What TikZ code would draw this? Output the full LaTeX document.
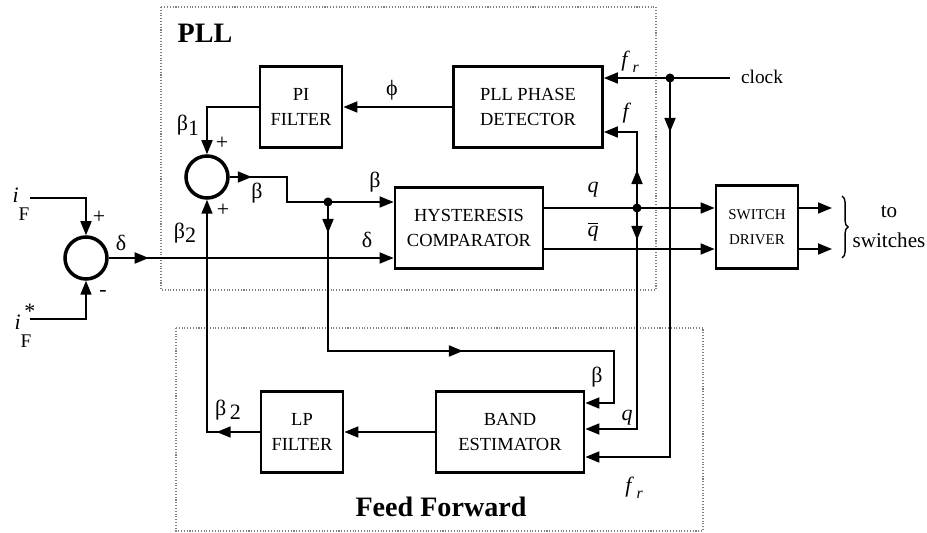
\documentclass[tikz,border=0pt]{standalone}
\usepackage{fontspec}
\setmainfont{Liberation Serif}
\usetikzlibrary{arrows.meta,decorations.markings,decorations.pathreplacing}
\newcommand{\fr}{\textit{f}\kern1.5pt\raisebox{-0.6ex}{\textit{\small r}}}
\newcommand{\qbar}{$\overline{\mbox{\textit{q}}}$}

\begin{document}
\begin{tikzpicture}[x=0.02cm, y=-0.02cm,
    >={Triangle[length=2.8mm,width=2.2mm]},
    blk/.style={rectangle, draw, line width=1.6pt, minimum width=1.64cm, minimum height=1.62cm,
                align=center, inner sep=1pt, font=\fontsize{10.5}{14.5}\selectfont},
    sumc/.style={circle, draw, line width=2pt, minimum size=0.84cm, inner sep=0pt},
    conn/.style={line width=1pt},
    zone/.style={draw=gray, densely dotted, line width=0.6pt},
    lbl/.style={font=\fontsize{12.5}{14}\selectfont, inner sep=0pt},
    title/.style={font=\fontsize{16}{18}\selectfont\bfseries, inner sep=0pt},
    arrat/.style={postaction={decorate}, decoration={markings, mark=at position #1 with {\arrow{>}}}},
    arrtwo/.style 2 args={postaction={decorate}, decoration={markings,
        mark=at position #1 with {\arrow{>}}, mark=at position #2 with {\arrow{>}}}}
]
    \useasboundingbox (0,0) rectangle (927,533);
    \draw[zone] (161,7) rectangle (656,290);
    \draw[zone] (176,328) rectangle (703,531);
    \node[title] (pll) at (205,33) {PLL};
    \node[title] (ff) at (441,507) {Feed Forward};

    \node[blk] (pi) at (301,107) {PI\\FILTER};
    \node[blk, minimum width=2.98cm] (pd) at (528,107) {PLL PHASE\\DETECTOR};
    \node[blk, minimum width=2.96cm] (hc) at (469,228) {HYSTERESIS\\COMPARATOR};
    \node[blk, minimum height=1.66cm, font=\fontsize{8.5}{14.5}\selectfont] (sd) at (757,227) {SWITCH\\DRIVER};
    \node[blk, minimum width=2.96cm] (be) at (510,432) {BAND\\ESTIMATOR};
    \node[blk] (lp) at (302,432) {LP\\FILTER};
    \node[sumc] (s1) at (207,177) {};
    \node[sumc] (s2) at (86,258) {};

    \coordinate (iin) at (30,198);
    \coordinate (isin) at (30,319);
    \coordinate (jb) at (328,202);
    \coordinate (jq) at (637,208);
    \coordinate (jc) at (670,78);
    \coordinate (clk) at (730,78);
    \coordinate (o1) at (832,208);
    \coordinate (o2) at (832,249);

    % error summing
    \draw[conn,->] (iin) -| (s2.north);
    \draw[conn,->] (isin) -| (s2.south);
    \draw[conn,->,arrat=0.8cm] (s2.east) -- (hc.west |- s2.east);

    % PLL loop
    \draw[conn,->] (pd.west) -- (pi.east);
    \draw[conn,->] (pi.west) -| (s1.north);
    \draw[conn,->,arrat=0.44cm] (s1.east) -| (287,202) -- (hc.west |- jb);
    \draw[conn,->] (clk) -- (pd.east |- clk);
    \draw[conn,->,arrat=0.76cm] (jq) |- (pd.east |- 0,132);

    % comparator outputs
    \draw[conn,->] (hc.east |- jq) -- (sd.west |- jq);
    \draw[conn,->] (hc.east |- 0,249) -- (sd.west |- 0,249);
    \draw[conn,->] (sd.east |- o1) -- (o1);
    \draw[conn,->] (sd.east |- o2) -- (o2);
    \draw[line width=0.8pt, decorate, decoration={brace, amplitude=3.5pt}] (842,196) -- (842,258);

    % feed forward
    \draw[conn,->,arrtwo={0.62cm}{5.68cm}] (jb) -- (328,351) -- (614,351) |- (be.east |- 0,403);
    \draw[conn,->,arrat=0.64cm] (jq) |- (be.east |- 0,429);
    \draw[conn,->,arrat=1.08cm] (jc) |- (be.east |- 0,457);
    \draw[conn,->] (be.west) -- (lp.east);
    \draw[conn,->,arrat=0.86cm] (lp.west) -| (s1.south);

    \foreach \j in {jb,jq,jc} \fill (\j) circle (0.9mm);

    % labels
    \node[lbl] (liF) at (21,204) {\textit{i}\raisebox{-0.8em}{\fontsize{11}{12}\selectfont F}};
    \node[lbl] (liFs) at (23,326) {\textit{i}\makebox[0pt][l]{\raisebox{0.5em}{\,*}}\raisebox{-0.8em}{\fontsize{11}{12}\selectfont F}};
    \node[lbl] (p1) at (99,217) {+};
    \node[lbl] (m1) at (103,294) {-};
    \node[lbl] (ld0) at (121,243) {δ};
    \node[lbl] (lb1) at (188,125) {β\raisebox{-0.5ex}{1}};
    \node[lbl] (p2) at (222,143) {+};
    \node[lbl] (p3) at (223,210) {+};
    \node[lbl] (lb2) at (185,233) {β\raisebox{-0.4ex}{2}};
    \node[lbl] (lb0) at (257,193) {β};
    \node[lbl] (lphi) at (392,90) {ϕ};
    \node[lbl] (lbh) at (375,182) {β};
    \node[lbl] (ldh) at (367,240) {δ};
    \node[lbl] (lq) at (593,190) {\textit{q}};
    \node[lbl] (lqb) at (593,232) {\qbar};
    \node[lbl] (lfr) at (630,62) {\fr};
    \node[lbl] (lf) at (627,113) {\textit{f}};
    \node[lbl, font=\fontsize{11}{13}\selectfont] (lclk) at (762,77) {clock};
    \node[lbl, align=center, font=\fontsize{12}{17}\selectfont] (ltos) at (889,227) {to\\switches};
    \node[lbl] (lbe) at (597,377) {β};
    \node[lbl] (lqe) at (627,418) {\textit{q}};
    \node[lbl] (lfre) at (634,488) {\fr};
    \node[lbl] (lb2e) at (228,410) {β\,\raisebox{-0.4ex}{2}};
\end{tikzpicture}
\end{document}
